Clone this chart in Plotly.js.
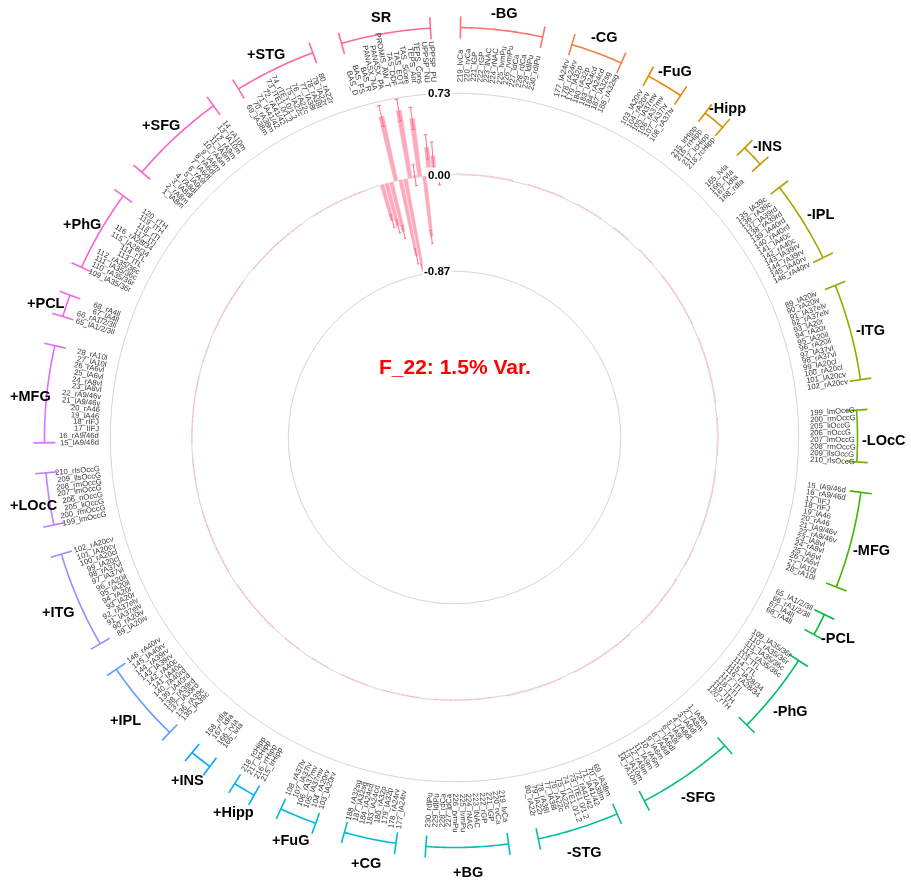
<!DOCTYPE html>
<html>
<head>
<meta charset="utf-8">
<script src="https://cdn.plot.ly/plotly-3.0.1.min.js"></script>
<style>
body{margin:0;background:#fff}
#grafico .main-svg{will-change:transform}
</style>
</head>
<body>
<div id="grafico" style="width:911px;height:880px"></div>
<script>
// Escalas de auto-relato (grupo SR), sentido horario
let srLabels = ['BAS_D','BAS_FS','BAS_R','PANASX_NA','PANASX_PA','PROMIS_AW_T','TAS_DDF','TAS_EOT','TAS_Score','TEPS_Ant','TEPS_Cons','UPPSP_NU','UPPSP_PU']
let srVals = [-0.34, -0.40, -0.46, 0.60, -0.70, -0.84, 0.62, 0.02, 0.53, -0.55, 0.26, 0.18, -0.04]
let srErr  = [0.06, 0.06, 0.06, 0.095, 0.07, 0.06, 0.10, 0.095, 0.10, 0.06, 0.11, 0.12, 0.05]

// Regioes cerebrais (mesma ordem nos lados - e +)
let bgLabels = ['219_lvCa','220_rvCa','221_lGP','222_rGP','223_lNAC','224_rNAC','225_lvmPu','226_rvmPu','227_ldCa','228_rdCa','229_ldlPu','230_rdlPu']
let cgLabels = ['177_lA24rv','178_rA24rv','179_lA32p','180_rA32p','183_lA24cd','184_rA24cd','187_lA32sg','188_rA32sg']
let fugLabels = ['103_lA20rv','104_rA20rv','105_lA37mv','106_rA37mv','107_lA37lv','108_rA37lv']
let hippLabels = ['215_lrHipp','216_rrHipp','217_lcHipp','218_rcHipp']
let insLabels = ['165_lvIa','166_rvIa','167_ldIa','168_rdIa']
let iplLabels = ['135_lA39c','136_rA39c','137_lA39rd','138_rA39rd','139_lA40rd','140_rA40rd','141_lA40c','142_rA40c','143_lA39rv','144_rA39rv','145_lA40rv','146_rA40rv']
let itgLabels = ['89_lA20iv','90_rA20iv','91_lA37elv','92_rA37elv','93_lA20r','94_rA20r','95_lA20il','96_rA20il','97_lA37vl','98_rA37vl','99_lA20cl','100_rA20cl','101_lA20cv','102_rA20cv']
let loccLabels = ['199_lmOccG','200_rmOccG','205_liOccG','206_riOccG','207_lmOccG','208_rmOccG','209_llsOccG','210_rlsOccG']
let mfgLabels = ['15_lA9/46d','16_rA9/46d','17_lIFJ','18_rIFJ','19_lA46','20_rA46','21_lA9/46v','22_rA9/46v','23_lA8vl','24_rA8vl','25_lA6vl','26_rA6vl','27_lA10l','28_rA10l']
let pclLabels = ['65_lA1/2/3ll','66_rA1/2/3ll','67_lA4ll','68_rA4ll']
let phgLabels = ['109_lA35/36r','110_rA35/36r','111_lA35/36c','112_rA35/36c','113_lTL','114_rTL','115_lA28/34','116_rA28/34','117_lTI','118_rTI','119_lTH','120_rTH']
let sfgLabels = ['1_lA8m','2_rA8m','3_lA8dl','4_rA8dl','5_lA9l','6_rA9l','7_lA6dl','8_rA6dl','9_lA6m','10_rA6m','11_lA9m','12_rA9m','13_lA10m','14_rA10m']
let stgLabels = ['69_lA38m','70_rA38m','71_lA41/42','72_rA41/42','73_lTE1.0/1.2','74_rTE1.0/1.2','75_lA22c','76_rA22c','77_lA38l','78_rA38l','79_lA22r','80_rA22r']

let regionNames = ['BG','CG','FuG','Hipp','INS','IPL','ITG','LOcC','MFG','PCL','PhG','SFG','STG']
let regionLabels = [bgLabels,cgLabels,fugLabels,hippLabels,insLabels,iplLabels,itgLabels,loccLabels,mfgLabels,pclLabels,phgLabels,sfgLabels,stgLabels]

// Cargas (quase nulas) das regioes
let minusVals = [
 0.01,0.01,0.01,0.01,0.01,0.01,0.01,0.01,0.01,0.01,0.01,0.01,
 0.01,0.01,0.01,0.01,0.01,0.01,0.01,0.01,
 0.01,0.01,0.01,0.01,0.01,0.01,
 0.01,0.01,0.01,0.01,
 0.01,0.01,0.01,0.01,
 0.01,0.01,0.01,0.01,0.01,0.01,0.01,0.01,0.01,0.01,0.01,0.01,
 0.01,0.01,0.01,0.01,0.01,0.01,0.01,0.01,0.01,0.01,0.01,0.01,0.01,0.01,
 0.01,0.01,0.01,0.01,0.01,0.01,0.01,0.01,
 0.01,0.01,0.01,0.01,0.01,0.01,0.01,0.01,0.01,0.01,0.01,0.01,0.01,0.01,
 0.01,0.01,0.01,0.01,
 0.01,0.01,0.01,0.01,0.01,0.01,0.01,0.01,0.01,0.01,0.01,0.01,
 0.01,0.01,0.01,0.01,0.01,0.01,0.01,0.01,0.01,0.01,0.01,0.01,0.01,0.01,
 0.01,0.01,0.01,0.01,0.01,0.01,0.01,0.01,0.01,0.01,0.01,0.01]
let plusVals = [
 -0.01,-0.01,-0.01,-0.01,-0.01,-0.01,-0.01,-0.01,-0.01,-0.01,-0.01,-0.01,
 -0.01,-0.01,-0.01,-0.01,-0.01,-0.01,-0.01,-0.01,
 -0.01,-0.01,-0.01,-0.01,-0.01,-0.01,
 -0.01,-0.01,-0.01,-0.01,
 -0.01,-0.01,-0.01,-0.01,
 -0.01,-0.01,-0.01,-0.01,-0.01,-0.01,-0.01,-0.01,-0.01,-0.01,-0.01,-0.01,
 -0.01,-0.01,-0.01,-0.01,-0.01,-0.01,-0.01,-0.01,-0.01,-0.01,-0.01,-0.01,-0.01,-0.01,
 -0.01,-0.01,-0.01,-0.01,-0.01,-0.01,-0.01,-0.01,
 -0.01,-0.01,-0.01,-0.01,-0.01,-0.01,-0.01,-0.01,-0.01,-0.01,-0.01,-0.01,-0.01,-0.01,
 -0.01,-0.01,-0.01,-0.01,
 -0.01,-0.01,-0.01,-0.01,-0.01,-0.01,-0.01,-0.01,-0.01,-0.01,-0.01,-0.01,
 -0.01,-0.01,-0.01,-0.01,-0.01,-0.01,-0.01,-0.01,-0.01,-0.01,-0.01,-0.01,-0.01,-0.01,
 -0.01,-0.01,-0.01,-0.01,-0.01,-0.01,-0.01,-0.01,-0.01,-0.01,-0.01,-0.01]

let gridVals = [-0.87, 0.00, 0.73]
let titulo = 'F_22: 1.5% Var.'

// geometria
let W = 911, H = 880
let cx = 454.5, cy = 437.5
let k = 111.2          // pixels por unidade radial
let rCentro = -2.365   // valor radial no centro
let rPx = 437.5
let rMax = rCentro + rPx/k
let passo = 360/342
let theta0 = -16.0
let vazio = 3
let fonte = 'Arial, Liberation Sans, sans-serif'
let tamRotulo = 7.7
let tamGrupo = 14.5

let ctx = document.createElement('canvas').getContext('2d')

function rv(px){ return rCentro + px/k }
function pos(px, th){
  let a = th*Math.PI/180
  return {x:(cx + px*Math.sin(a))/W, y:1 - (cy - px*Math.cos(a))/H}
}
function hcl(h, c, l){
  let Y = 100*Math.pow((l+16)/116,3)
  let u = c*Math.cos(h*Math.PI/180)/(13*l) + 0.1978398
  let v = c*Math.sin(h*Math.PI/180)/(13*l) + 0.4683363
  let X = 9*Y*u/(4*v)
  let Z = -X/3 - 5*Y + 3*Y/v
  X/=100; Y/=100; Z/=100
  let rgb = [3.240479*X-1.537150*Y-0.498535*Z, -0.969256*X+1.875992*Y+0.041556*Z, 0.055648*X-0.204043*Y+1.057311*Z]
  return 'rgb(' + rgb.map(t => {
    t = t <= 0.0031308 ? 12.92*t : 1.055*Math.pow(t,1/2.4)-0.055
    return Math.round(255*Math.min(1,Math.max(0,t)))
  }).join(',') + ')'
}

// grupos na ordem horaria
let grupos = [{nome:'SR', labels:srLabels, vals:srVals, cor:26}]
let iv = 0
for(let g=0; g<regionNames.length; g++){
  let n = regionLabels[g].length
  grupos.push({nome:'-'+regionNames[g], labels:regionLabels[g], vals:minusVals.slice(iv, iv+n), cor:g})
  iv += n
}
iv = 0
for(let g=0; g<regionNames.length; g++){
  let n = regionLabels[g].length
  grupos.push({nome:'+'+regionNames[g], labels:regionLabels[g], vals:plusVals.slice(iv, iv+n), cor:13+g})
  iv += n
}

let thetas = [], valores = [], textos = []
let traces = []
let anotacoes = []
let s = 0
let srCor = hcl(15 + 360*26/27, 100, 65)

grupos.forEach(gr => {
  let cor = hcl(15 + 360*gr.cor/27, 100, 65)
  let t1 = theta0 + s*passo
  ctx.font = tamRotulo + 'px Arial, "Liberation Sans", sans-serif'
  gr.labels.forEach((lab, i) => {
    let th = theta0 + s*passo
    thetas.push(th); valores.push(gr.vals[i]); textos.push(lab)
    let w = ctx.measureText(lab).width
    let p = pos(356 + w/2, th)
    let ang = ((th % 360) + 360) % 360
    anotacoes.push({
      xref:'paper', yref:'paper', x:p.x, y:p.y, showarrow:false,
      xanchor:'center', yanchor:'middle', borderpad:0,
      text: lab,
      textangle: ang < 180 ? ang - 90 : ang - 270,
      font:{family:fonte, size:tamRotulo, color:'#383838'}
    })
    s++
  })
  let t2 = theta0 + (s-1)*passo

  // titulo do grupo, mantido dentro da figura
  ctx.font = 'bold ' + tamGrupo + 'px Arial, "Liberation Sans", sans-serif'
  let meia = ctx.measureText(gr.nome).width/2
  let tm = (t1+t2)/2*Math.PI/180
  let rt = 431, rbPx = 410
  let xc = cx + rt*Math.sin(tm)
  if(xc + meia > 906){
    rt = (906 - meia - cx)/Math.sin(tm)
    rbPx = Math.min(rbPx, (906 - 2*meia - 5 - cx)/Math.sin(tm))
  }
  if(xc - meia < 10) rt = (10 + meia - cx)/Math.sin(tm)
  let pt = pos(rt, (t1+t2)/2)
  anotacoes.push({xref:'paper', yref:'paper', x:pt.x, y:pt.y - 4/H, showarrow:false, xanchor:'center', yanchor:'middle',
    text:'<b>' + gr.nome + '</b>', font:{family:fonte, size:tamGrupo, color:'#000'}})

  // colchete do grupo
  let rb = rv(rbPx), rt1 = rv(rbPx-11), rt2 = rv(rbPx+11)
  let br = [], bt = []
  for(let t=t1; t<t2; t+=0.5){ br.push(rb); bt.push(t) }
  br.push(rb); bt.push(t2)
  br.push(null, rt1, rt2, null, rt1, rt2)
  bt.push(null, t1, t1, null, t2, t2)
  traces.push({type:'scatterpolar', mode:'lines', r:br, theta:bt, line:{color:cor, width:1.6}, hoverinfo:'skip', showlegend:false})
  s += vazio
})

// barras
let barras = {
  type:'barpolar',
  r: valores.map(v => Math.abs(v)),
  base: valores.map(v => Math.min(v, 0)),
  theta: thetas,
  width: 1.0,
  text: textos,
  marker:{color:'rgba(254,109,141,0.58)', line:{color:'rgba(255,255,255,0.7)', width:0.5}},
  showlegend:false
}

// barras de erro do grupo SR
let er = [], et = []
let ww = 0.35
srVals.forEach((v, i) => {
  let th = thetas[i]
  er.push(v - srErr[i], v + srErr[i], null, v - srErr[i], v - srErr[i], null, v + srErr[i], v + srErr[i], null)
  et.push(th, th, null, th - ww, th + ww, null, th - ww, th + ww, null)
})
let erros = {type:'scatterpolar', mode:'lines', r:er, theta:et, line:{color:srCor, width:1}, hoverinfo:'skip', showlegend:false}

// rotulos do eixo radial
gridVals.forEach(g => {
  let py = cy - (g - rCentro)*k
  anotacoes.push({xref:'paper', yref:'paper', x:452/W, y:1 - py/H, showarrow:false, xanchor:'right', yanchor:'middle',
    text:'<b>' + g.toFixed(2) + '</b>', bgcolor:'#fff', borderpad:1,
    font:{family:fonte, size:11.5, color:'#000'}})
})
anotacoes.push({xref:'paper', yref:'paper', x:455/W, y:1 - 367/H, showarrow:false, xanchor:'center', yanchor:'middle',
  text:'<b>' + titulo + '</b>', font:{family:fonte, size:21, color:'#ff0000'}})

let layout = {
  width:W, height:H,
  margin:{l:0, r:0, t:0, b:0},
  paper_bgcolor:'#fff',
  showlegend:false,
  polar:{
    domain:{x:[(cx-rPx)/W, (cx+rPx)/W], y:[1-(cy+rPx)/H, 1-(cy-rPx)/H]},
    bgcolor:'rgba(0,0,0,0)',
    angularaxis:{rotation:90, direction:'clockwise', thetaunit:'degrees', showgrid:false, showticklabels:false, ticks:'', showline:false},
    radialaxis:{range:[rCentro, rMax], tickvals:gridVals, showticklabels:false, ticks:'', showline:false, gridcolor:'#d6d6d6', gridwidth:1.2}
  },
  annotations: anotacoes
}

Plotly.newPlot('grafico', [barras, erros].concat(traces), layout, {displayModeBar:false})
</script>
</body>
</html>
